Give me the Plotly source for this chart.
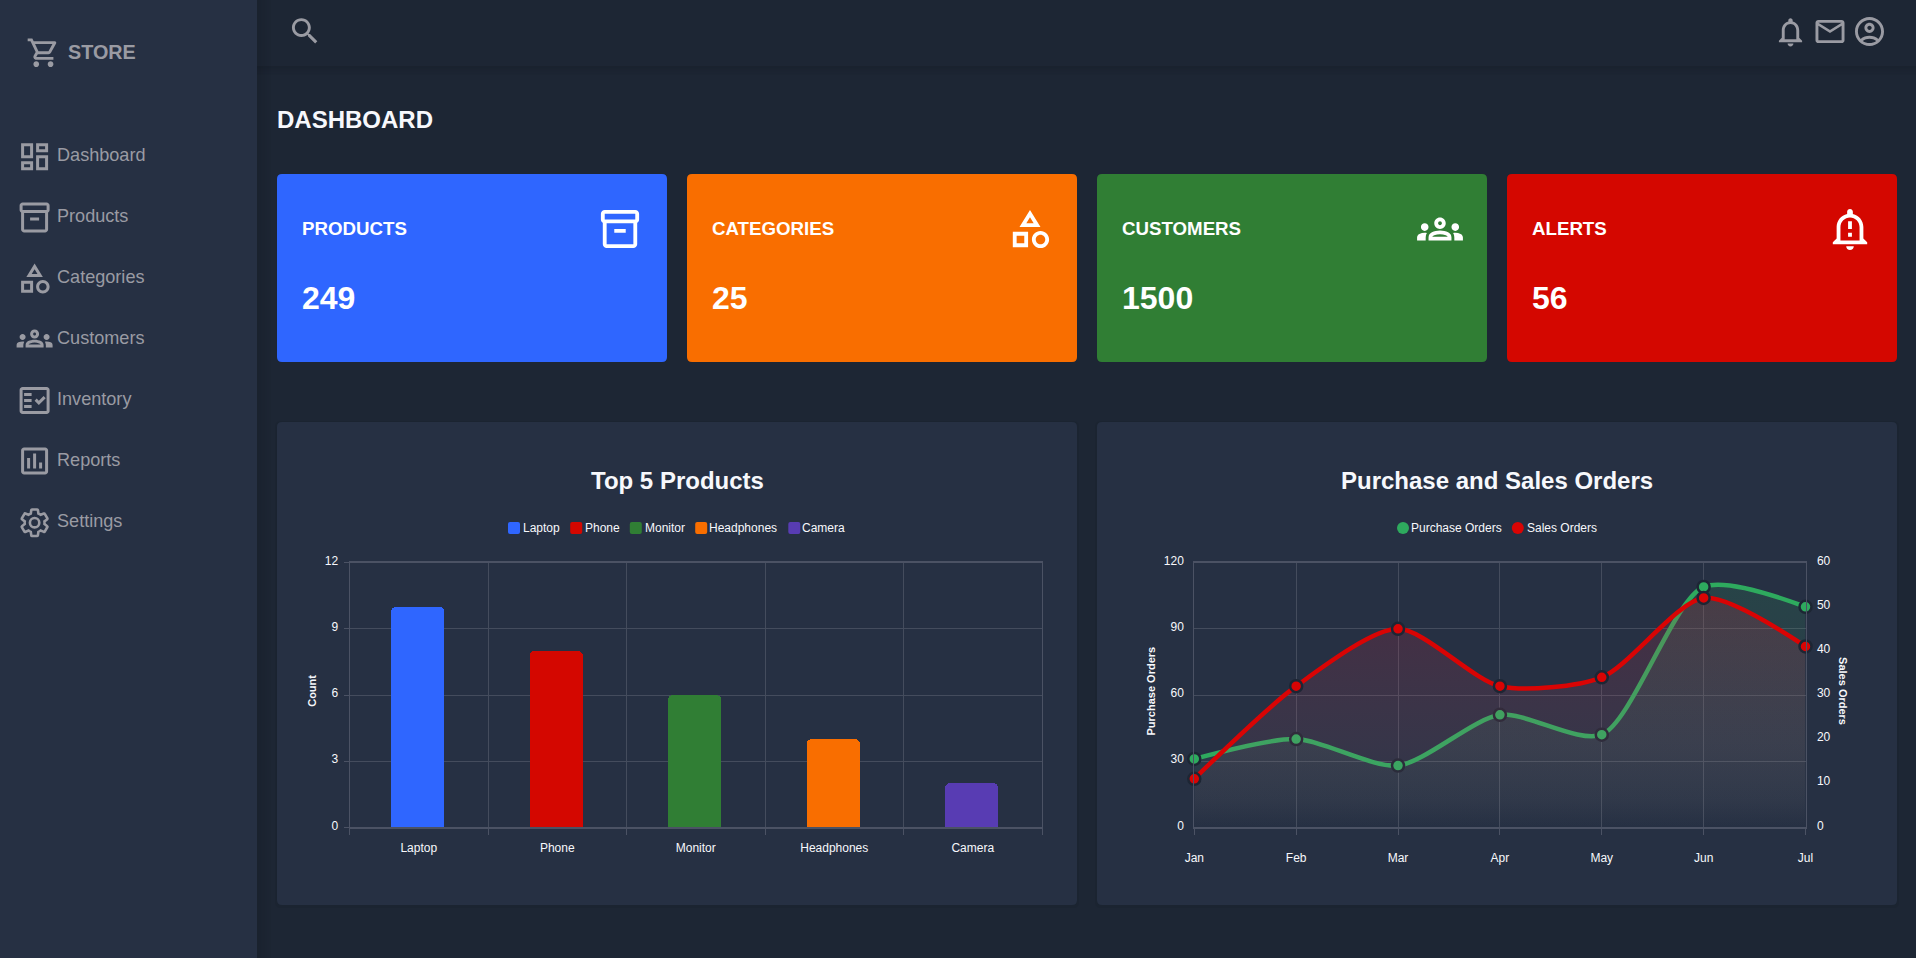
import re
import plotly.graph_objects as go

# ---------------- data ----------------
PRODUCTS = ["Laptop", "Phone", "Monitor", "Headphones", "Camera"]
PRODUCT_COUNTS = [10, 8, 6, 4, 2]
MONTHS = ["Jan", "Feb", "Mar", "Apr", "May", "Jun", "Jul"]
PURCHASE_ORDERS = [31, 40, 28, 51, 42, 109, 100]
SALES_ORDERS = [11, 32, 45, 32, 34, 52, 41]
CARD_TITLES = ["PRODUCTS", "CATEGORIES", "CUSTOMERS", "ALERTS"]
CARD_VALUES = ["249", "25", "1500", "56"]
NAV_ITEMS = ["Dashboard", "Products", "Categories", "Customers", "Inventory", "Reports", "Settings"]

# ---------------- style ----------------
W, H = 1916, 958
BG = "#1d2634"
PANEL = "#263043"
MUTED = "#9a9ba3"
WHITE = "#f7f8fc"
GRID = "#444c5d"
AXIS = "#4b5264"
BLUE, ORANGE, GREEN, RED, PURPLE = "#2f66ff", "#f96e00", "#307e34", "#d40700", "#583cb3"
BAR_COLORS = [BLUE, RED, GREEN, ORANGE, PURPLE]
LINE_GREEN, LINE_RED = "#2eaa5e", "#d90404"
FONT = "Liberation Sans"

ICONS = {
    "dashboard": "M19 5v2h-4V5h4M9 5v6H5V5h4m10 8v6h-4v-6h4M9 17v2H5v-2h4M21 3h-8v6h8V3zM11 3H3v10h8V3zm10 8h-8v10h8V11zm-10 4H3v6h8v-6z",
    "archive": "M20 2H4c-1 0-2 .9-2 2v3.01c0 .72.43 1.34 1 1.69V20c0 1.1 1.1 2 2 2h14c.9 0 2-.9 2-2V8.7c.57-.35 1-.97 1-1.69V4c0-1.1-1-2-2-2zm-1 18H5V9h14v11zm1-13H4V4h16v3zM9 12h6v2H9z",
    "category": "M12 2l-5.5 9h11L12 2zm0 3.84L13.93 9h-3.87L12 5.84zM17.5 13c-2.49 0-4.5 2.01-4.5 4.5s2.01 4.5 4.5 4.5 4.5-2.01 4.5-4.5-2.01-4.5-4.5-4.5zm0 7c-1.38 0-2.5-1.12-2.5-2.5s1.12-2.5 2.5-2.5 2.5 1.12 2.5 2.5-1.12 2.5-2.5 2.5zM3 21.5h8v-8H3v8zm2-6h4v4H5v-4z",
    "groups": "M4 13c1.1 0 2-.9 2-2s-.9-2-2-2-2 .9-2 2 .9 2 2 2zm1.13 1.1c-.37-.06-.74-.1-1.13-.1-.99 0-1.93.21-2.78.58C.48 14.9 0 15.62 0 16.43V18h4.5v-1.61c0-.83.23-1.61.63-2.29zM20 13c1.1 0 2-.9 2-2s-.9-2-2-2-2 .9-2 2 .9 2 2 2zm4 3.43c0-.81-.48-1.53-1.22-1.85-.85-.37-1.79-.58-2.78-.58-.39 0-.76.04-1.13.1.4.68.63 1.46.63 2.29V18H24v-1.57zm-7.76-2.78c-1.17-.52-2.61-.9-4.24-.9-1.63 0-3.07.39-4.24.9C6.68 14.13 6 15.21 6 16.39V18h12v-1.61c0-1.18-.68-2.26-1.76-2.74zM8.07 16c.09-.23.13-.39.91-.69.97-.38 1.99-.56 3.02-.56s2.05.18 3.02.56c.77.3.81.46.91.69H8.07zM12 8c.55 0 1 .45 1 1s-.45 1-1 1-1-.45-1-1 .45-1 1-1m0-2c-1.66 0-3 1.34-3 3s1.34 3 3 3 3-1.34 3-3-1.34-3-3-3z",
    "fact": "M20 3H4c-1.1 0-2 .9-2 2v14c0 1.1.9 2 2 2h16c1.1 0 2-.9 2-2V5c0-1.1-.9-2-2-2zm0 16H4V5h16v14zM19.41 10.42l-1.42-1.42-3.17 3.17-1.41-1.42L12 12.16 14.82 15zM5 7h5v2H5zM5 11h5v2H5zM5 15h5v2H5z",
    "poll": "M19 3H5c-1.1 0-2 .9-2 2v14c0 1.1.9 2 2 2h14c1.1 0 2-.9 2-2V5c0-1.1-.9-2-2-2zm0 16H5V5h14v14zM7 10h2v7H7zM11 7h2v10h-2zM15 13h2v4h-2z",
    "bell": "M12 22c1.1 0 2-.9 2-2h-4c0 1.1.9 2 2 2zm6-6v-5c0-3.07-1.63-5.64-4.5-6.32V4c0-.83-.67-1.5-1.5-1.5s-1.5.67-1.5 1.5v.68C7.64 5.36 6 7.92 6 11v5l-2 2v1h16v-1l-2-2zm-2 1H8v-6c0-2.48 1.51-4.5 4-4.5s4 2.02 4 4.5v6z",
    "alert": "M10.01 21.01c0 1.1.89 1.99 1.99 1.99s1.99-.89 1.99-1.99h-3.98zM12 6c2.76 0 5 2.24 5 5v7H7v-7c0-2.76 2.24-5 5-5zm0-4.5c-.83 0-1.5.67-1.5 1.5v1.17C7.36 4.85 5 7.65 5 11v6l-2 2v1h18v-1l-2-2v-6c0-3.35-2.36-6.15-5.5-6.83V3c0-.83-.67-1.5-1.5-1.5zM11 8h2v4h-2zm0 6h2v2h-2z",
    "mail": "M22 6c0-1.1-.9-2-2-2H4c-1.1 0-2 .9-2 2v12c0 1.1.9 2 2 2h16c1.1 0 2-.9 2-2V6zm-2 0l-8 5-8-5h16zm0 12H4V8l8 5 8-5v10z",
    "account": "M12 2C6.48 2 2 6.48 2 12s4.48 10 10 10 10-4.48 10-10S17.52 2 12 2zM7.35 18.5C8.66 17.56 10.26 17 12 17s3.34.56 4.65 1.5C15.34 19.44 13.74 20 12 20s-3.34-.56-4.65-1.5zm10.79-1.38C16.45 15.8 14.32 15 12 15s-4.45.8-6.14 2.12C4.7 15.73 4 13.95 4 12c0-4.42 3.58-8 8-8s8 3.58 8 8c0 1.95-.7 3.73-1.86 5.12zM12 6c-1.93 0-3.5 1.57-3.5 3.5S10.07 13 12 13s3.5-1.57 3.5-3.5S13.93 6 12 6zm0 5c-.83 0-1.5-.67-1.5-1.5S11.17 8 12 8s1.5.67 1.5 1.5S12.83 11 12 11z",
    "search": "M15.5 14h-.79l-.28-.27C15.41 12.59 16 11.11 16 9.5 16 5.91 13.09 3 9.5 3S3 5.91 3 9.5 5.91 16 9.5 16c1.61 0 3.09-.59 4.23-1.57l.27.28v.79l5 4.99L20.49 19l-4.99-5zm-6 0C7.01 14 5 11.99 5 9.5S7.01 5 9.5 5 14 7.01 14 9.5 11.99 14 9.5 14z",
    "cart": "M15.55 13c.75 0 1.41-.41 1.75-1.03l3.58-6.49c.37-.66-.11-1.48-.87-1.48H5.21l-.94-2H1v2h2l3.6 7.59-1.35 2.44C4.52 15.37 5.48 17 7 17h12v-2H7l1.1-2h7.45zM6.16 6h12.15l-2.76 5H8.53L6.16 6zM7 18c-1.1 0-1.99.9-1.99 2S5.9 22 7 22s2-.9 2-2-.9-2-2-2zm10 0c-1.1 0-1.99.9-1.99 2s.89 2 1.99 2 2-.9 2-2-.9-2-2-2z",
}
GEAR = "M19.14,12.94c0.04-0.3,0.06-0.61,0.06-0.94c0-0.32-0.02-0.64-0.07-0.94l2.03-1.58c0.18-0.14,0.23-0.41,0.12-0.61l-1.92-3.32c-0.12-0.22-0.37-0.29-0.59-0.22l-2.39,0.96c-0.5-0.38-1.03-0.7-1.62-0.94L14.4,2.81c-0.04-0.24-0.24-0.41-0.48-0.41h-3.84c-0.24,0-0.43,0.17-0.47,0.41L9.25,5.35C8.66,5.59,8.12,5.92,7.63,6.29L5.24,5.33c-0.22-0.08-0.47,0-0.59,0.22L2.74,8.87C2.62,9.08,2.66,9.34,2.86,9.48l2.03,1.58C4.84,11.36,4.8,11.69,4.8,12s0.02,0.64,0.07,0.94l-2.03,1.58c-0.18,0.14-0.23,0.41-0.12,0.61l1.92,3.32c0.12,0.22,0.37,0.29,0.59,0.22l2.39-0.96c0.5,0.38,1.03,0.7,1.62,0.94l0.36,2.54c0.05,0.24,0.24,0.41,0.48,0.41h3.84c0.24,0,0.44-0.17,0.47-0.41l0.36-2.54c0.59-0.24,1.13-0.56,1.62-0.94l2.39,0.96c0.22,0.08,0.47,0,0.59-0.22l1.92-3.32c0.12-0.22,0.07-0.47-0.12-0.61L19.14,12.94z"
INNER_GEAR = "M12 8.6c-1.88 0-3.4 1.52-3.4 3.4s1.52 3.4 3.4 3.4 3.4-1.52 3.4-3.4-1.52-3.4-3.4-3.4z"


def px(x, y):
    return x / W, 1 - y / H


def svg_to_abs(d):
    """Expand an SVG path (no arcs) into absolute M/L/C/Z segments."""
    toks = re.findall(r"[MmLlHhVvCcSsQqZz]|[-+]?(?:\d*\.\d+|\d+\.?\d*)", d)
    i, cmd = 0, None
    cx = cy = sx = sy = 0.0
    lastc = None
    out = []
    def num():
        nonlocal i
        v = float(toks[i]); i += 1
        return v
    while i < len(toks):
        if re.match(r"[A-Za-z]", toks[i]):
            cmd = toks[i]; i += 1
        rel = cmd.islower()
        c = cmd.upper()
        ox, oy = (cx, cy) if rel else (0.0, 0.0)
        if c == "Z":
            out.append(("Z",)); cx, cy = sx, sy; lastc = None
            continue
        if c == "M":
            cx, cy = num() + ox, num() + oy
            sx, sy = cx, cy
            out.append(("M", cx, cy))
            cmd = "l" if rel else "L"; lastc = None
        elif c == "L":
            cx, cy = num() + ox, num() + oy
            out.append(("L", cx, cy)); lastc = None
        elif c == "H":
            cx = num() + ox
            out.append(("L", cx, cy)); lastc = None
        elif c == "V":
            cy = num() + oy
            out.append(("L", cx, cy)); lastc = None
        elif c == "C":
            a, b = num() + ox, num() + oy
            e, f = num() + ox, num() + oy
            g, h = num() + ox, num() + oy
            out.append(("C", a, b, e, f, g, h))
            lastc, cx, cy = (e, f), g, h
        elif c == "S":
            a, b = (2 * cx - lastc[0], 2 * cy - lastc[1]) if lastc else (cx, cy)
            e, f = num() + ox, num() + oy
            g, h = num() + ox, num() + oy
            out.append(("C", a, b, e, f, g, h))
            lastc, cx, cy = (e, f), g, h
    return out


def icon_shape(name_or_path, cx, cy, scale, color, stroke=None, shrink=1.0):
    d = ICONS.get(name_or_path, name_or_path)
    parts = []
    for seg in svg_to_abs(d):
        if seg[0] == "Z":
            parts.append("Z")
            continue
        vals = []
        for k in range(1, len(seg), 2):
            X = cx + (seg[k] - 12) * scale * shrink
            Y = cy + (seg[k + 1] - 12) * scale * shrink
            a, b = px(X, Y)
            vals.append(f"{a:.6f},{b:.6f}")
        parts.append(seg[0] + " " + " ".join(vals))
    s = dict(type="path", xref="paper", yref="paper", path=" ".join(parts), layer="below")
    if stroke:
        s.update(line=dict(color=color, width=stroke), fillcolor="rgba(0,0,0,0)")
    else:
        s.update(line=dict(width=0), fillcolor=color)
    return s


def rrect(x0, y0, x1, y1, r, color, opacity=1.0):
    def p(x, y):
        a, b = px(x, y)
        return f"{a:.6f},{b:.6f}"
    d = (f"M {p(x0 + r, y0)} L {p(x1 - r, y0)} Q {p(x1, y0)} {p(x1, y0 + r)} "
         f"L {p(x1, y1 - r)} Q {p(x1, y1)} {p(x1 - r, y1)} L {p(x0 + r, y1)} "
         f"Q {p(x0, y1)} {p(x0, y1 - r)} L {p(x0, y0 + r)} Q {p(x0, y0)} {p(x0 + r, y0)} Z")
    return dict(type="path", xref="paper", yref="paper", path=d, fillcolor=color,
                line=dict(width=0), layer="below", opacity=opacity)


def label(text, x, y, size, color=WHITE, bold=False, anchor="left", angle=0):
    a, b = px(x, y)
    return dict(text=f"<b>{text}</b>" if bold else text, x=a, y=b, xref="paper", yref="paper",
                xanchor=anchor, yanchor="middle", showarrow=False, textangle=angle,
                font=dict(family=FONT, size=size, color=color), borderpad=0, borderwidth=0)


shapes, notes = [], []

# page frame: soft shadows, sidebar, top bar
for k, op in enumerate([0.10, 0.08, 0.06, 0.04, 0.03, 0.02]):
    shapes.append(rrect(0, 66 + k * 1.5, W, 66 + (k + 1) * 1.5, 0, "#000000", op))
for k, op in enumerate([0.10, 0.09, 0.07, 0.06, 0.04, 0.03, 0.02]):
    shapes.append(rrect(257 + k * 2, 0, 257 + (k + 1) * 2, H, 0, "#000000", op))
shapes.append(rrect(0, 0, 257, H, 0, PANEL))

# stat cards
CARD_X = [(277, 667), (687, 1077), (1097, 1487), (1507, 1897)]
CARD_COLORS = [BLUE, ORANGE, GREEN, RED]
CARD_ICONS = ["archive", "category", "groups", "alert"]
for (x0, x1), col, ttl, val, ic in zip(CARD_X, CARD_COLORS, CARD_TITLES, CARD_VALUES, CARD_ICONS):
    shapes.append(rrect(x0, 174, x1, 362, 5, col))
    shapes.append(icon_shape(ic, x1 - 47, 229, 1.91, "#ffffff"))
    notes.append(label(ttl, x0 + 25, 228.5, 18.7, "#ffffff", True))
    notes.append(label(val, x0 + 25, 298, 32, "#ffffff", True))

# chart panels
for x0, x1 in [(277, 1077), (1097, 1897)]:
    shapes.append(rrect(x0 - 2, 421, x1 + 2, 908, 6, "#000000", 0.05))
    shapes.append(rrect(x0, 422, x1, 905, 5, PANEL))

# sidebar
shapes.append(icon_shape("cart", 43.4, 52.7, 1.43, MUTED))
notes.append(label("STORE", 67.5, 51.8, 19.8, MUTED, True))
NAV_ICON_Y = [156.7, 217.5, 278.5, 338.5, 400.5, 461, 522.7]
NAV_TEXT_Y = [154.6, 215.7, 276.8, 337.6, 398.6, 460, 520.7]
for name, ic, iy, ty in zip(NAV_ITEMS, ["dashboard", "archive", "category", "groups", "fact", "poll", None],
                            NAV_ICON_Y, NAV_TEXT_Y):
    if ic:
        shapes.append(icon_shape(ic, 34.6, iy, 1.5, MUTED))
    else:
        shapes.append(icon_shape(GEAR, 34.6, iy, 1.5, MUTED, stroke=2.6, shrink=0.92))
        shapes.append(icon_shape(INNER_GEAR, 34.6, iy, 1.5, MUTED, stroke=2.6, shrink=0.92))
    notes.append(label(name, 57, ty, 18.1, MUTED))

# top bar icons + page heading
shapes.append(icon_shape("search", 305, 31.2, 1.45, MUTED))
shapes.append(icon_shape("bell", 1790.5, 32, 1.45, MUTED))
shapes.append(icon_shape("mail", 1830, 31.5, 1.45, MUTED))
shapes.append(icon_shape("account", 1869.5, 31.5, 1.45, MUTED))
notes.append(label("DASHBOARD", 277, 119, 24, WHITE, True))

# chart titles and legends
notes.append(label("Top 5 Products", 677, 480.5, 24, WHITE, True, "center"))
notes.append(label("Purchase and Sales Orders", 1497, 480.5, 24, WHITE, True, "center"))
for name, col, sx, tx in zip(PRODUCTS, BAR_COLORS, [508, 570.2, 629.8, 695.2, 788.3], [523, 584.8, 644.5, 709.3, 802.4]):
    shapes.append(rrect(sx, 522, sx + 12, 534, 2, col))
    notes.append(label(name, tx, 527.7, 12, WHITE))
for name, col, sx, tx in zip(["Purchase Orders", "Sales Orders"], [LINE_GREEN, LINE_RED], [1403, 1517.8], [1411.4, 1527.3]):
    a0, b0 = px(sx - 6, 522)
    a1, b1 = px(sx + 6, 534)
    shapes.append(dict(type="circle", xref="paper", yref="paper", x0=a0, y0=b0, x1=a1, y1=b1,
                       fillcolor=col, line=dict(width=0), layer="below"))
    notes.append(label(name, tx, 527.7, 12, WHITE))
notes.append(label("Count", 311.8, 691, 11, WHITE, True, "center", -90))
notes.append(label("Purchase Orders", 1150, 691.5, 11, WHITE, True, "center", -90))
notes.append(label("Sales Orders", 1843.4, 691.5, 11, WHITE, True, "center", 90))

# ---------------- charts ----------------
fig = go.Figure()
fig.add_trace(go.Bar(x=PRODUCTS, y=PRODUCT_COUNTS, marker=dict(color=BAR_COLORS, cornerradius=5, line=dict(width=0)),
                     width=0.385, offset=-0.2, xaxis="x", yaxis="y", showlegend=False))

GREEN_FILL = dict(type="vertical", colorscale=[[0, "rgba(90,170,140,0)"], [0.12, "rgba(90,170,140,0.045)"],
                                               [0.35, "rgba(80,170,130,0.09)"], [1, "rgba(46,170,94,0.16)"]])
RED_FILL = dict(type="vertical", colorscale=[[0, "rgba(200,120,140,0)"], [0.12, "rgba(200,120,140,0.05)"],
                                             [0.35, "rgba(205,100,125,0.10)"], [1, "rgba(225,30,60,0.18)"]])

fig.add_trace(go.Scatter(x=MONTHS, y=PURCHASE_ORDERS, name="Purchase Orders", mode="lines+markers",
                         line=dict(color=LINE_GREEN, width=4.5, shape="spline", smoothing=0.75),
                         marker=dict(color=LINE_GREEN, size=12, line=dict(color="#1d2634", width=2.5)),
                         fill="tozeroy", fillgradient=GREEN_FILL,
                         cliponaxis=False, xaxis="x2", yaxis="y2", showlegend=False))
fig.add_trace(go.Scatter(x=MONTHS, y=SALES_ORDERS, name="Sales Orders", mode="lines+markers",
                         line=dict(color=LINE_RED, width=4.5, shape="spline", smoothing=0.75),
                         marker=dict(color=LINE_RED, size=12, line=dict(color="#1d2634", width=2.5)),
                         fill="tozeroy", fillgradient=RED_FILL,
                         cliponaxis=False, xaxis="x2", yaxis="y3", showlegend=False))

tickfont = dict(family=FONT, size=12, color=WHITE)
TOP, BOT = 1 - 562.7 / H, 1 - 827.3 / H
common_y = dict(showgrid=True, gridcolor=GRID, gridwidth=1, zeroline=False, tickfont=tickfont,
                showline=True, linecolor=AXIS, linewidth=1, ticklabelshift=-2, mirror=True)
common_x = dict(showgrid=True, gridcolor=GRID, gridwidth=1, zeroline=False, tickfont=tickfont,
                showline=True, linecolor=AXIS, linewidth=2, ticks="outside", ticklen=6,
                tickcolor=AXIS, tickwidth=1, type="category", mirror=True)

fig.update_layout(
    width=W, height=H, margin=dict(l=0, r=0, t=0, b=0, pad=0, autoexpand=False), autosize=False,
    paper_bgcolor=BG, plot_bgcolor="rgba(0,0,0,0)",
    font=dict(family=FONT, color=WHITE), bargap=0, hovermode=False,
    shapes=shapes, annotations=notes,
    xaxis=dict(common_x, domain=[349.5 / W, 1042 / W], anchor="y", tickson="boundaries",
               categoryorder="array", categoryarray=PRODUCTS, range=[-0.5, 4.5], ticklabelstandoff=8),
    yaxis=dict(common_y, domain=[BOT, TOP], anchor="x", range=[0, 12], dtick=3, ticks="outside", ticklen=5,
               tickcolor=AXIS, tickwidth=1, ticklabelstandoff=3),
    xaxis2=dict(common_x, domain=[1194.3 / W, 1805.5 / W], anchor="y2", categoryorder="array",
                categoryarray=MONTHS, range=[0, 6], ticklabelstandoff=12),
    yaxis2=dict(common_y, domain=[BOT, TOP], anchor="x2", range=[0, 120], dtick=30, ticklabelstandoff=7),
    yaxis3=dict(common_y, domain=[BOT, TOP], anchor="x2", overlaying="y2", side="right", range=[0, 60], dtick=10,
                showgrid=False, ticklabelstandoff=8),
)

fig.write_html("out.html", config=dict(displayModeBar=False, staticPlot=True),
               post_script="document.body.style.margin='0';document.body.style.background='#1d2634';document.documentElement.style.overflow='hidden';")
